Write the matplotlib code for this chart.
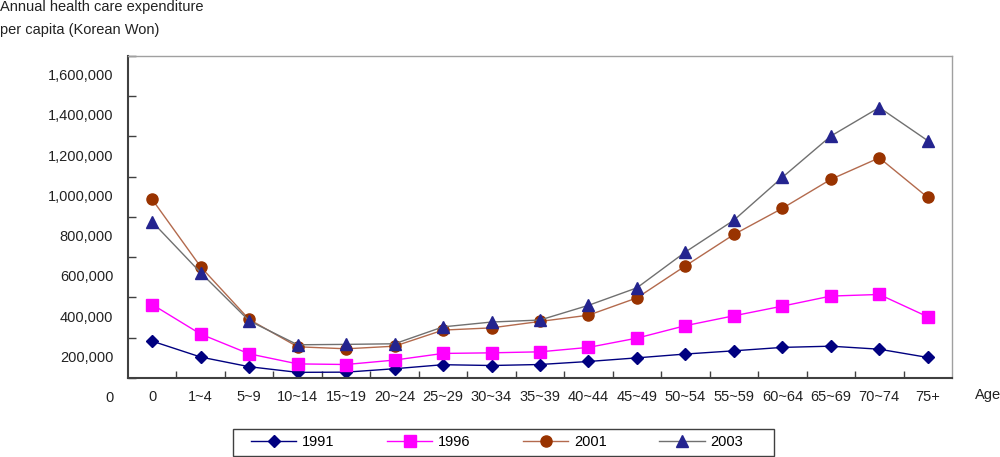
import matplotlib.pyplot as plt
from matplotlib.patches import Rectangle
from matplotlib.transforms import blended_transform_factory

plt.rcParams['font.family'] = ['Liberation Sans', 'DejaVu Sans']

ages = ["0", "1~4", "5~9", "10~14", "15~19", "20~24", "25~29", "30~34", "35~39",
        "40~44", "45~49", "50~54", "55~59", "60~64", "65~69", "70~74", "75+"]

# annual health care expenditure per capita (won)
exp_1991 = [283000, 204000, 156000, 128000, 129000, 146000, 166000, 162000, 167000,
            182000, 200000, 219000, 235000, 252000, 258000, 243000, 202000]
exp_1996 = [465000, 318000, 220000, 170000, 167000, 189000, 222000, 225000, 230000,
            252000, 298000, 360000, 409000, 457000, 507000, 515000, 404000]
exp_2001 = [987000, 652000, 391000, 255000, 245000, 258000, 338000, 349000, 381000,
            412000, 498000, 657000, 813000, 943000, 1087000, 1194000, 997000]
exp_2003 = [876000, 623000, 384000, 265000, 267000, 270000, 354000, 378000, 388000,
            461000, 548000, 726000, 884000, 1097000, 1302000, 1444000, 1279000]

years = ["1991", "1996", "2001", "2003"]
y_labels = [0, 200000, 400000, 600000, 800000, 1000000, 1200000, 1400000, 1600000]

fs = 10.5
fig = plt.figure(figsize=(10, 4.57), dpi=100)
ax = fig.add_axes([0.128, 0.1729, 0.824, 0.7046])

x = list(range(len(ages)))
ax.plot(x, exp_1991, color="#000080", lw=1.0, marker="D", ms=6.5,
        mfc="#000080", mec="#000080", label=years[0])
ax.plot(x, exp_1996, color="#FF00FF", lw=1.0, marker="s", ms=8.5,
        mfc="#FF00FF", mec="#FF00FF", label=years[1])
ax.plot(x, exp_2001, color="#B36A4D", lw=1.0, marker="o", ms=8,
        mfc="#993300", mec="#993300", label=years[2])
ax.plot(x, exp_2003, color="#707070", lw=1.0, marker="^", ms=8.5,
        mfc="#24248F", mec="#24248F", label=years[3])

ax.set_xlim(-0.5, len(ages) - 0.5)
ax.set_ylim(100000, 1700000)

# tick marks sit between the labels, as in the original
ax.set_yticks(range(100000, 1700001, 200000))
ax.set_yticklabels([])
ax.tick_params(axis="y", which="major", direction="in", length=6, width=1, color="#404040")
trans = blended_transform_factory(ax.transAxes, ax.transData)
for v in y_labels:
    ax.text(-0.018, v, f"{v:,}", transform=trans, ha="right", va="center",
            fontsize=fs, color="#222222", clip_on=False)

ax.set_xticks(x)
ax.set_xticklabels(ages, fontsize=fs, color="#222222")
ax.set_xticks([i + 0.5 for i in range(len(ages) - 1)], minor=True)
ax.tick_params(axis="x", which="major", length=0, pad=9)
ax.tick_params(axis="x", which="minor", direction="in", length=5, width=1, color="#404040")

for side in ["left", "bottom"]:
    ax.spines[side].set_color("#404040")
    ax.spines[side].set_linewidth(1.5)
for side in ["top", "right"]:
    ax.spines[side].set_color("#A0A0A0")
    ax.spines[side].set_linewidth(1.0)

fig.text(0.0, 1 - 7 / 457, "Annual health care expenditure", fontsize=fs,
         ha="left", va="center", color="#222222")
fig.text(0.0, 1 - 30 / 457, "per capita (Korean Won)", fontsize=fs,
         ha="left", va="center", color="#222222")
fig.text(0.988, 1 - 395 / 457, "Age", fontsize=fs, ha="center", va="center", color="#222222")

fig.legend(loc="center", bbox_to_anchor=(0.497, 1 - 442.5 / 457), ncol=4,
           fontsize=fs, frameon=False, handlelength=3.1,
           handletextpad=0.4, columnspacing=3.6, borderpad=0.3)
fig.patches.append(Rectangle((0.233, 1 - 456 / 457), 0.541, 27 / 457,
                             transform=fig.transFigure, fill=False,
                             edgecolor="#404040", lw=1.0))

fig.savefig("out.png", dpi=100)
